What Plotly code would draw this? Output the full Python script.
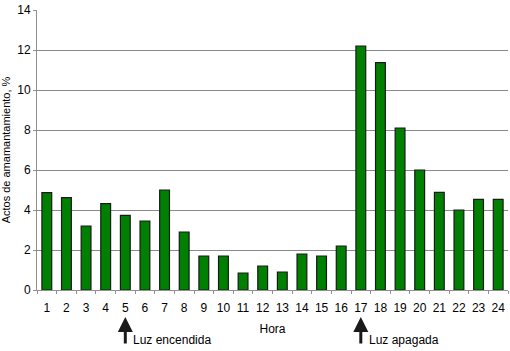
import plotly.graph_objects as go

horas = list(range(1, 25))
valores = [4.87, 4.62, 3.2, 4.32, 3.73, 3.45, 5.0, 2.9, 1.7, 1.7, 0.85, 1.2,
           0.9, 1.8, 1.7, 2.2, 12.2, 11.37, 8.1, 6.0, 4.88, 4.0, 4.53, 4.53]
y_ticks = [0, 2, 4, 6, 8, 10, 12, 14]

FONT = "Liberation Sans, Arial, sans-serif"

fig = go.Figure()
fig.add_trace(go.Bar(
    x=horas, y=valores, width=0.5,
    marker=dict(color="#008000", line=dict(color="#1a1a1a", width=1.2)),
))

fig.update_layout(
    width=510, height=351,
    margin=dict(l=37, r=2, t=10, b=61),
    paper_bgcolor="white", plot_bgcolor="white",
    showlegend=False,
    font=dict(family=FONT, size=12, color="black"),
    xaxis=dict(
        range=[0.5, 24.5], tickmode="array", tickvals=horas,
        ticktext=[str(h) for h in horas], ticks="", showgrid=False,
        showline=True, linecolor="#909090", linewidth=1,
        tickfont=dict(size=12), ticklabelstandoff=7,
        minor=dict(tickmode="array", tickvals=[i + 0.5 for i in range(0, 25)],
                   ticks="outside", ticklen=3, tickcolor="#909090"),
        title=dict(text="Hora", standoff=10, font=dict(size=12)),
        zeroline=False,
    ),
    yaxis=dict(
        range=[0, 14], tickvals=y_ticks, ticks="outside", ticklen=3,
        tickcolor="#909090", showgrid=True, gridcolor="#8a8a8a", gridwidth=1,
        showline=True, linecolor="#909090", linewidth=1,
        title=dict(text="Actos de amamantamiento, %", standoff=6, font=dict(size=11)),
        zeroline=False, tickfont=dict(size=12),
    ),
)

for h, label in [(5, "Luz encendida"), (17, "Luz apagada")]:
    fig.add_annotation(
        x=h, y=-0.096, xref="x", yref="paper", ax=0, ay=28,
        showarrow=True, arrowhead=2, arrowsize=1, arrowwidth=3,
        arrowcolor="#1a1a1a", text="", standoff=0, startstandoff=0,
    )
    fig.add_annotation(
        x=h, y=-0.178, xref="x", yref="paper", xshift=6,
        xanchor="left", yanchor="middle", showarrow=False,
        text=label, font=dict(size=12, family=FONT),
    )

fig.write_html("out.html")
